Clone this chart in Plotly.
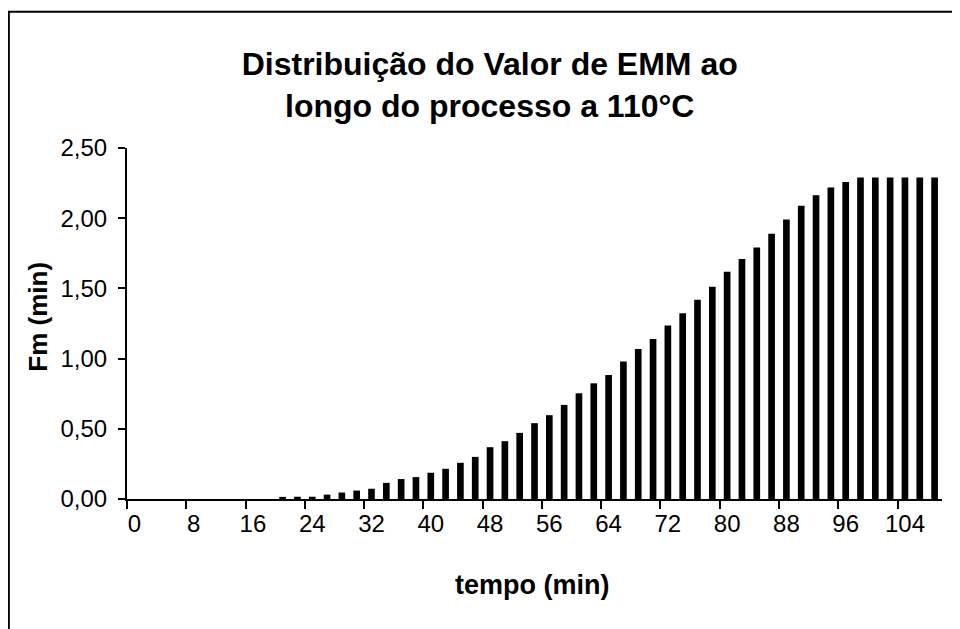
"""Distribuição do valor de EMM (Fm) ao longo do processo a 110 °C."""

import plotly.graph_objects as go

OUTPUT = "out.html"

# tempo (min), one bar every 2 minutes
TEMPO = [
    0, 2, 4, 6, 8, 10, 12, 14, 16, 18,
    20, 22, 24, 26, 28, 30, 32, 34, 36, 38,
    40, 42, 44, 46, 48, 50, 52, 54, 56, 58,
    60, 62, 64, 66, 68, 70, 72, 74, 76, 78,
    80, 82, 84, 86, 88, 90, 92, 94, 96, 98,
    100, 102, 104, 106, 108,
]

# Fm (min)
FM = [
    0.0, 0.0, 0.0, 0.0, 0.0, 0.0, 0.0, 0.0, 0.0, 0.0,
    0.015, 0.016, 0.016, 0.031, 0.046, 0.060, 0.073, 0.115, 0.142, 0.156,
    0.187, 0.215, 0.258, 0.300, 0.369, 0.412, 0.471, 0.540, 0.597, 0.670,
    0.753, 0.824, 0.883, 0.980, 1.068, 1.139, 1.236, 1.323, 1.420, 1.511,
    1.619, 1.709, 1.792, 1.889, 1.991, 2.088, 2.164, 2.218, 2.258, 2.289,
    2.289, 2.289, 2.289, 2.289, 2.289,
]

X_TICKS = [0, 8, 16, 24, 32, 40, 48, 56, 64, 72, 80, 88, 96, 104]
Y_TICKS = [0.0, 0.5, 1.0, 1.5, 2.0, 2.5]

FONT = "Liberation Sans, Arial, sans-serif"

fig = go.Figure(
    go.Bar(
        x=TEMPO,
        y=FM,
        width=0.9,
        marker=dict(color="black", line=dict(width=0)),
        showlegend=False,
    )
)

# The page body has an 8px margin, so the figure is a bit smaller than the
# window and the margins are shifted to keep the plot area in place.
fig.update_layout(
    width=952,
    height=621,
    margin=dict(l=119, r=18, t=140, b=130),
    paper_bgcolor="white",
    plot_bgcolor="white",
    separators=",.",
    font=dict(family=FONT, size=24, color="black"),
    title=dict(
        text="<b>Distribuição do Valor de EMM ao<br>longo do processo a 110°C</b>",
        font=dict(family=FONT, size=32, color="black"),
        x=0.506,
        xanchor="center",
        y=0.892,
        yanchor="top",
    ),
    xaxis=dict(
        range=[-1, 109],
        tickmode="array",
        tickvals=X_TICKS,
        ticks="outside",
        ticklen=2,
        tickcolor="rgba(0,0,0,0)",
        minor=dict(
            tick0=-1,
            dtick=8,
            ticks="outside",
            ticklen=8,
            tickwidth=2,
            tickcolor="black",
        ),
        showline=True,
        linecolor="black",
        linewidth=2,
        showgrid=False,
        zeroline=False,
        tickfont=dict(size=24),
    ),
    yaxis=dict(
        range=[0, 2.5],
        tickmode="array",
        tickvals=Y_TICKS,
        tickformat=".2f",
        ticks="outside",
        ticklen=7,
        tickwidth=2,
        tickcolor="black",
        showline=True,
        linecolor="black",
        linewidth=2,
        showgrid=False,
        zeroline=False,
        ticklabelstandoff=6,
        tickfont=dict(size=24),
    ),
    annotations=[
        dict(
            text="<b>tempo (min)</b>",
            xref="paper",
            yref="paper",
            x=0.498,
            y=-0.245,
            xanchor="center",
            yanchor="middle",
            showarrow=False,
            font=dict(family=FONT, size=27),
        ),
        dict(
            text="<b>Fm (min)</b>",
            xref="paper",
            yref="paper",
            x=-0.109,
            y=0.52,
            textangle=-90,
            xanchor="center",
            yanchor="middle",
            showarrow=False,
            font=dict(family=FONT, size=26),
        ),
    ],
    shapes=[
        # outer chart-area frame (cut off at right and bottom like the reference)
        dict(
            type="path",
            xref="paper",
            yref="paper",
            path="M -0.145,-0.5 L -0.145,1.388 L 1.2,1.388",
            line=dict(color="black", width=2),
        ),
    ],
)

fig.write_html(OUTPUT)
